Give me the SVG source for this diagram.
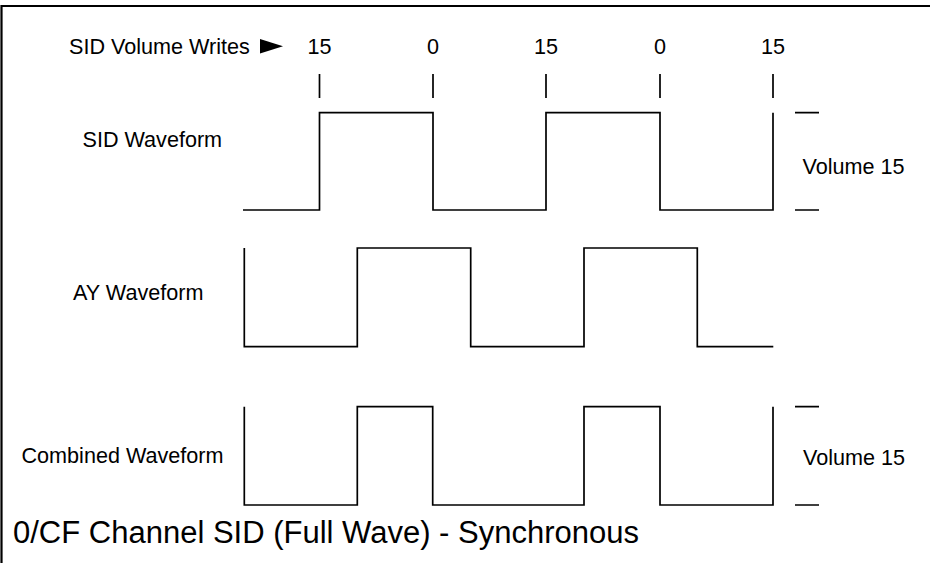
<svg xmlns="http://www.w3.org/2000/svg" width="930" height="563" viewBox="0 0 930 563">
  <style>
    .t { font-family: "Liberation Sans", Arial, sans-serif; font-size: 21.6px; fill: #000; }
    .title { font-family: "Liberation Sans", Arial, sans-serif; font-size: 31px; fill: #000; }
    .w { fill: none; stroke: #000; stroke-width: 1.7; stroke-linejoin: miter; stroke-linecap: butt; }
    .frame { fill: none; stroke: #000; stroke-width: 2.2; }
  </style>
  <rect width="930" height="563" fill="#fff"/>
  <path class="frame" d="M1.5,563 V6 H930"/>

  <g id="volume-writes">
    <text class="t" x="69" y="54">SID Volume Writes</text>
    <polygon points="260,39 260,53.5 283,46.2" fill="#000"/>
    <text class="t" x="319.5" y="54" text-anchor="middle">15</text>
    <text class="t" x="433" y="54" text-anchor="middle">0</text>
    <text class="t" x="546" y="54" text-anchor="middle">15</text>
    <text class="t" x="660" y="54" text-anchor="middle">0</text>
    <text class="t" x="773" y="54" text-anchor="middle">15</text>
  </g>

  <g id="ticks">
    <path class="w" d="M319.5,74 V98 M433,74 V98 M546,74 V98 M660,74 V98 M773,74 V98"/>
  </g>

  <g id="sid-waveform">
    <text class="t" x="82.5" y="147">SID Waveform</text>
    <path class="w" d="M243,210 H319.5 V112.7 H433 V210 H546 V112.7 H660 V210 H773 V112.7"/>
  </g>

  <g id="sid-volume">
    <path class="w" d="M795,112.7 H819 M795,210 H819"/>
    <text class="t" x="802.5" y="174">Volume 15</text>
  </g>

  <g id="ay-waveform">
    <text class="t" x="73" y="300">AY Waveform</text>
    <path class="w" d="M244.3,248 V346.7 H357.3 V248 H470.7 V346.7 H584 V248 H697.3 V346.7 H773.3"/>
  </g>

  <g id="combined-waveform">
    <text class="t" x="21.5" y="463">Combined Waveform</text>
    <path class="w" d="M244.3,406.7 V505 H357.3 V406.7 H432.7 V505 H584 V406.7 H660 V505 H773 V406.7"/>
  </g>

  <g id="combined-volume">
    <path class="w" d="M795,406.7 H819 M795,505 H819"/>
    <text class="t" x="803" y="465">Volume 15</text>
  </g>

  <g id="title">
    <text class="title" x="13" y="543">0/CF Channel SID (Full Wave) - Synchronous</text>
  </g>
</svg>
